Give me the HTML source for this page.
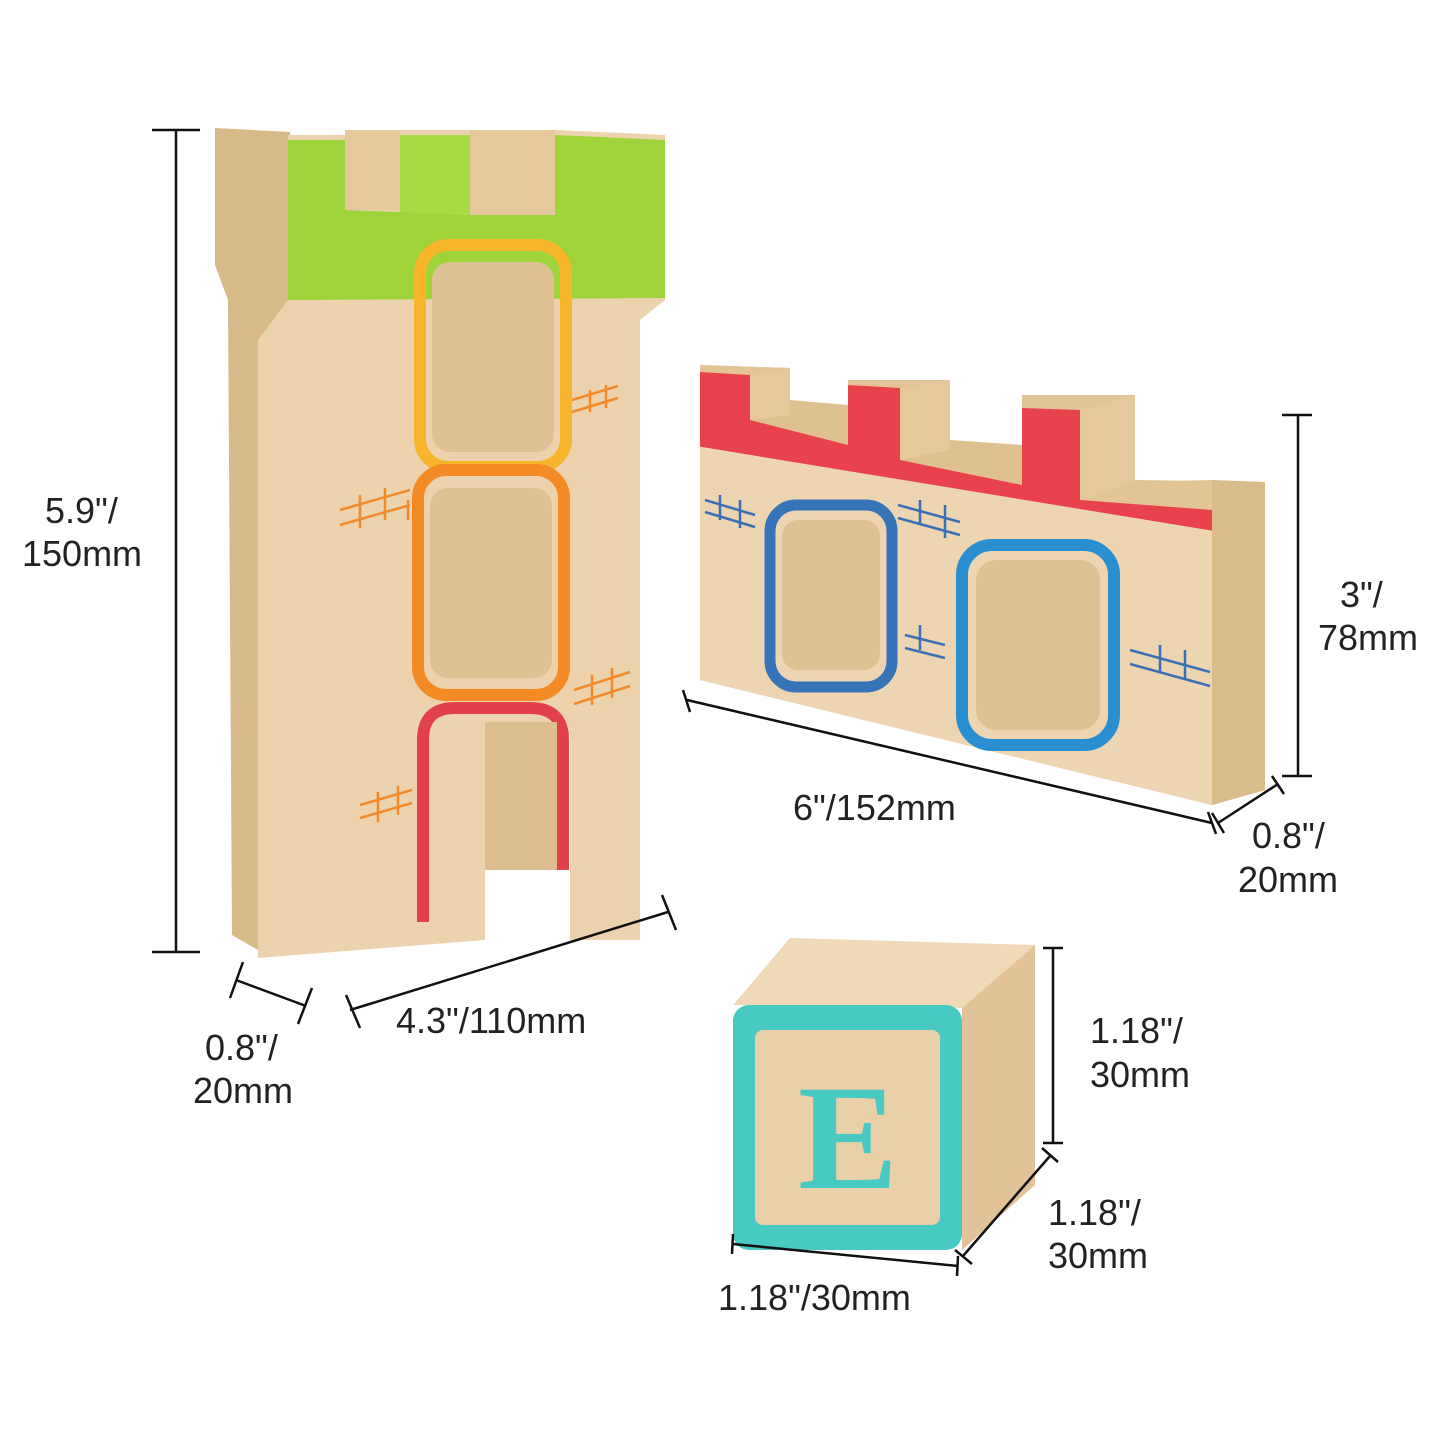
<!DOCTYPE html>
<html><head><meta charset="utf-8"><style>
html,body{margin:0;padding:0;background:#fff;}
svg{display:block;}
text{font-family:"Liberation Sans",sans-serif;font-size:36px;fill:#222;}
</style></head><body>
<svg width="1445" height="1445" viewBox="0 0 1445 1445" xmlns="http://www.w3.org/2000/svg">
<defs>
<clipPath id="wf"><polygon points="700,372 750,375 750,420 848,445 848,385 900,388 900,460 1022,485 1022,408 1080,410 1080,500 1212,510 1212,805 700,680"/></clipPath>
</defs>
<rect width="1445" height="1445" fill="#fff"/>
<!-- TOWER -->
<polygon points="215,128 290,132 290,300 258,340 258,950 232,935 228,300 215,265" fill="#d8b98a"/>
<polygon points="288,135 345,135 345,210 400,210 400,130 470,130 470,215 555,215 555,130 665,135 665,300 640,320 640,940 570,940 570,735 485,735 485,940 258,958 258,340 288,300" fill="#ecd3ad"/>
<rect x="345" y="130" width="55" height="80" fill="#e6c89c"/>
<rect x="470" y="130" width="85" height="85" fill="#e6c89c"/>
<polygon points="288,140 345,140 345,210 400,212 400,135 470,135 470,215 555,215 555,135 665,140 665,298 288,300" fill="#9ed33a"/>
<polygon points="400,135 470,135 470,215 400,212" fill="#a8da44"/>
<rect x="420" y="245" width="146" height="222" rx="28" fill="none" stroke="#f6b52a" stroke-width="12"/>
<rect x="432" y="262" width="122" height="190" rx="18" fill="#dfc196"/>
<rect x="418" y="470" width="146" height="225" rx="28" fill="none" stroke="#f48a24" stroke-width="12"/>
<rect x="430" y="488" width="122" height="190" rx="18" fill="#dfc196"/>
<path d="M423,922 V740 Q423,708 455,708 H530 Q563,708 563,740 V870" fill="none" stroke="#e2404a" stroke-width="12"/>
<rect x="485" y="722" width="72" height="148" fill="#dcbd8f"/>
<g stroke="#f08a2a" stroke-width="2.5" fill="none">
<path d="M340,510 L410,490 M340,525 L410,505 M360,495 L360,528 M385,488 L385,520 M408,500 L408,520"/>
<path d="M572,400 L618,386 M572,412 L618,398 M590,390 L590,412 M606,385 L606,408"/>
<path d="M574,690 L630,672 M574,704 L630,686 M592,675 L592,705 M612,668 L612,698"/>
<path d="M360,805 L412,790 M360,818 L412,803 M378,792 L378,822 M398,786 L398,815"/>
</g>
<!-- WALL -->
<polygon points="700,365 790,368 790,400 848,405 848,380 950,380 950,440 1022,445 1022,395 1135,395 1135,480 1265,482 1265,790 1212,805 700,680" fill="#dfc090"/>
<polygon points="1212,510 1212,480 1265,482 1265,790 1212,805" fill="#d9bb8c"/>
<polygon points="700,372 700,365 790,368 750,375" fill="#e2c496"/>
<polygon points="750,375 790,368 790,415 750,420" fill="#e6c89c"/>
<polygon points="848,385 848,380 950,380 900,388" fill="#e2c496"/>
<polygon points="900,388 950,380 950,450 900,460" fill="#e6c89c"/>
<polygon points="1022,408 1022,395 1135,395 1080,410" fill="#e2c496"/>
<polygon points="1080,410 1135,395 1135,482 1080,500" fill="#e6c89c"/>
<polygon points="1080,500 1135,482 1212,480 1212,510" fill="#e2c496"/>
<polygon points="700,372 750,375 750,420 848,445 848,385 900,388 900,460 1022,485 1022,408 1080,410 1080,500 1212,510 1212,805 700,680" fill="#ecd5b0"/>
<polygon clip-path="url(#wf)" points="690,360 1220,360 1220,532 690,445" fill="#e8424c"/>
<rect x="770" y="505" width="122" height="182" rx="26" fill="none" stroke="#3574b8" stroke-width="11"/>
<rect x="782" y="520" width="98" height="150" rx="16" fill="#dfc196"/>
<rect x="962" y="545" width="152" height="200" rx="30" fill="none" stroke="#2a8fd0" stroke-width="12"/>
<rect x="976" y="560" width="124" height="170" rx="20" fill="#dfc196"/>
<g stroke="#3a6fb8" stroke-width="2.5" fill="none">
<path d="M705,500 L755,515 M705,512 L755,527 M720,495 L720,520 M740,500 L740,528"/>
<path d="M898,505 L960,522 M898,518 L960,535 M920,500 L920,525 M945,505 L945,538"/>
<path d="M905,635 L945,645 M905,648 L945,658 M920,625 L920,650"/>
<path d="M1130,650 L1210,672 M1130,664 L1210,686 M1160,645 L1160,672 M1185,650 L1185,680"/>
</g>
<!-- CUBE -->
<polygon points="733,1005 790,938 1035,945 962,1008" fill="#efd9b6"/>
<polygon points="962,1008 1035,945 1035,1185 962,1250" fill="#e2c397"/>
<rect x="733" y="1005" width="229" height="245" rx="16" fill="#48c9c4"/>
<rect x="755" y="1030" width="185" height="195" rx="8" fill="#e9d0a6"/>
<text x="848" y="1188" text-anchor="middle" style="font-family:'Liberation Serif',serif;font-size:150px;font-weight:bold;fill:#48c9c4">E</text>
<!-- DIMENSIONS -->
<g stroke="#111" stroke-width="2.5" fill="none">
<path d="M176,130 V952 M152,130 H200 M152,952 H200"/>
<path d="M1298,415 V776 M1282,415 H1312 M1282,776 H1312"/>
<path d="M687,700 L1212,823 M683,690 L690,712 M1208,812 L1216,834"/>
<path d="M1218,823 L1278,784 M1212,813 L1224,833 M1272,776 L1284,794"/>
<path d="M350,1010 L668,912 M346,995 L360,1028 M662,895 L676,930"/>
<path d="M236,980 L306,1006 M230,998 L243,962 M298,1024 L312,988"/>
<path d="M1053,948 V1143 M1043,948 H1063 M1043,1143 H1063"/>
<path d="M963,1256 L1050,1156 M955,1250 L972,1264 M1042,1148 L1058,1162"/>
<path d="M733,1244 L958,1266 M733,1234 L732,1254 M958,1256 L957,1276"/>
</g>
<text x="45" y="523">5.9"/</text>
<text x="22" y="566">150mm</text>
<text x="1340" y="607">3"/</text>
<text x="1318" y="650">78mm</text>
<text x="793" y="820">6"/152mm</text>
<text x="1252" y="848">0.8"/</text>
<text x="1238" y="892">20mm</text>
<text x="396" y="1033">4.3"/110mm</text>
<text x="205" y="1060">0.8"/</text>
<text x="193" y="1103">20mm</text>
<text x="1090" y="1043">1.18"/</text>
<text x="1090" y="1087">30mm</text>
<text x="1048" y="1225">1.18"/</text>
<text x="1048" y="1268">30mm</text>
<text x="718" y="1310">1.18"/30mm</text>
</svg>
</body></html>
